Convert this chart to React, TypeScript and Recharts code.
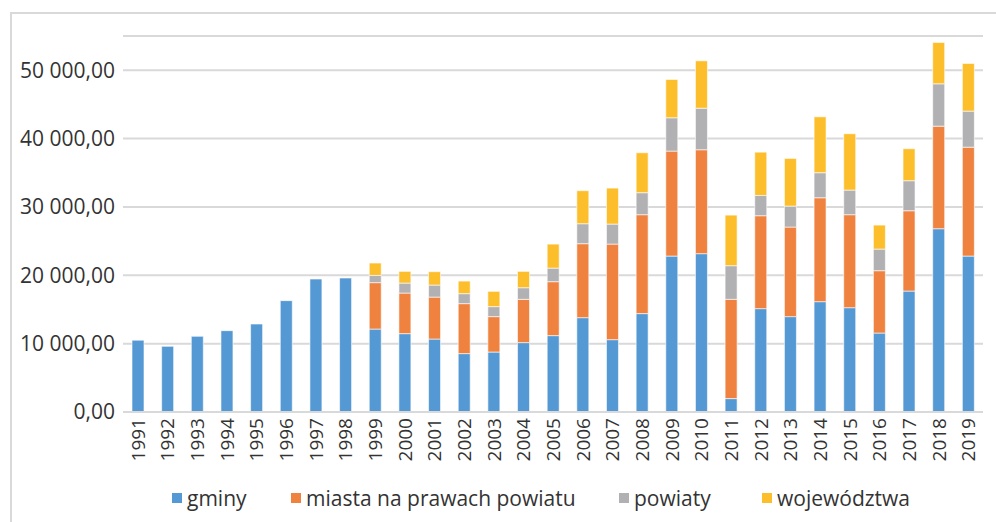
import { BarChart, Bar, XAxis, YAxis, CartesianGrid } from 'recharts'

// lata 1991-2019, wartości w podziale na szczeble JST
const YEARS = [
  '1991', '1992', '1993', '1994', '1995', '1996', '1997', '1998', '1999', '2000',
  '2001', '2002', '2003', '2004', '2005', '2006', '2007', '2008', '2009', '2010',
  '2011', '2012', '2013', '2014', '2015', '2016', '2017', '2018', '2019',
]

const GMINY = [
  10500, 9600, 11070, 11900, 12870, 16290, 19450, 19600, 12130, 11460,
  10670, 8540, 8770, 10150, 11170, 13800, 10580, 14390, 22810, 23160,
  1960, 15120, 13950, 16140, 15260, 11550, 17690, 26810, 22810,
]

const MIASTA = [
  null, null, null, null, null, null, null, null, 6790, 5940,
  6140, 7310, 5180, 6330, 7890, 10820, 13980, 14470, 15350, 15200,
  14520, 13590, 13100, 15200, 13600, 9120, 11750, 15000, 15930,
]

const POWIATY = [
  null, null, null, null, null, null, null, null, 1060, 1460,
  1760, 1460, 1460, 1700, 1990, 2920, 2930, 3220, 4880, 6080,
  4920, 2970, 3070, 3660, 3600, 3160, 4390, 6200, 5270,
]

const WOJEWODZTWA = [
  null, null, null, null, null, null, null, null, 1810, 1710,
  1950, 1840, 2240, 2390, 3510, 4830, 5260, 5840, 5600, 6930,
  7400, 6330, 6970, 8180, 8240, 3510, 4680, 6040, 6970,
]

const Y_TICKS = [0, 10000, 20000, 30000, 40000, 50000]

const SERIES = [
  { key: 'gminy', name: 'gminy', color: '#5599d4' },
  { key: 'miasta', name: 'miasta na prawach powiatu', color: '#f08240' },
  { key: 'powiaty', name: 'powiaty', color: '#b1b1b3' },
  { key: 'woj', name: 'województwa', color: '#fdbe2b' },
]

const FONT = '"Open Sans", "Noto Sans", sans-serif'
const TEXT = '#333333'
const GRID = '#d9d9d9'

const data = YEARS.map((year, i) => ({
  year,
  gminy: GMINY[i],
  miasta: MIASTA[i],
  powiaty: POWIATY[i],
  woj: WOJEWODZTWA[i],
}))

// format "50 000,00"
function fmt(v: number) {
  const s = String(Math.round(v))
  const withSpaces = s.replace(/\B(?=(\d{3})+(?!\d))/g, ' ')
  return `${withSpaces},00`
}

function YearTick(props: any) {
  const { x, y, payload } = props
  return (
    <text
      x={x}
      y={y}
      transform={`rotate(-90, ${x}, ${y})`}
      textAnchor="end"
      dominantBaseline="central"
      fill={TEXT}
      fontSize={19}
      fontFamily={FONT}
    >
      {payload.value}
    </text>
  )
}

const LEGEND_LEFT = [172, 291, 619, 762]

export default function App() {
  return (
    <div style={{ position: 'absolute', left: 0, top: 0, width: 996, height: 522, background: '#fff', overflow: 'hidden' }}>
      {/* ramka wykresu */}
      <div
        style={{
          position: 'absolute',
          left: 10,
          top: 12,
          width: 1000,
          height: 520,
          borderLeft: `2px solid ${GRID}`,
          borderTop: `2px solid ${GRID}`,
        }}
      />
      <div style={{ position: 'absolute', left: 0, top: 0 }}>
        <BarChart
          width={996}
          height={522}
          data={data}
          margin={{ top: 36, right: 13, bottom: 0, left: 0 }}
          barSize={12}
        >
          <CartesianGrid vertical={false} stroke={GRID} strokeWidth={2} />
          <XAxis
            dataKey="year"
            interval={0}
            height={110}
            tickLine={false}
            tickSize={0}
            tickMargin={6}
            axisLine={{ stroke: GRID, strokeWidth: 2 }}
            tick={<YearTick />}
          />
          <YAxis
            width={123}
            domain={[0, 55000]}
            ticks={Y_TICKS}
            axisLine={false}
            tickLine={false}
            tickSize={0}
            tickMargin={8}
            tickFormatter={fmt}
            tick={{ fill: TEXT, fontSize: 21, fontFamily: FONT }}
          />
          {SERIES.map((s) => (
            <Bar
              key={s.key}
              dataKey={s.key}
              name={s.name}
              stackId="a"
              fill={s.color}
              stroke="#ffffff"
              strokeWidth={0.6}
              isAnimationActive={false}
            />
          ))}
        </BarChart>
      </div>
      {/* legenda */}
      {SERIES.map((s, i) => (
        <div
          key={s.key}
          style={{
            position: 'absolute',
            left: LEGEND_LEFT[i],
            top: 484,
            height: 28,
            display: 'flex',
            alignItems: 'center',
            fontFamily: FONT,
            fontSize: 21,
            color: TEXT,
            whiteSpace: 'nowrap',
          }}
        >
          <span style={{ width: 10, height: 10, background: s.color, marginRight: 5, display: 'inline-block' }} />
          {s.name}
        </div>
      ))}
    </div>
  )
}
